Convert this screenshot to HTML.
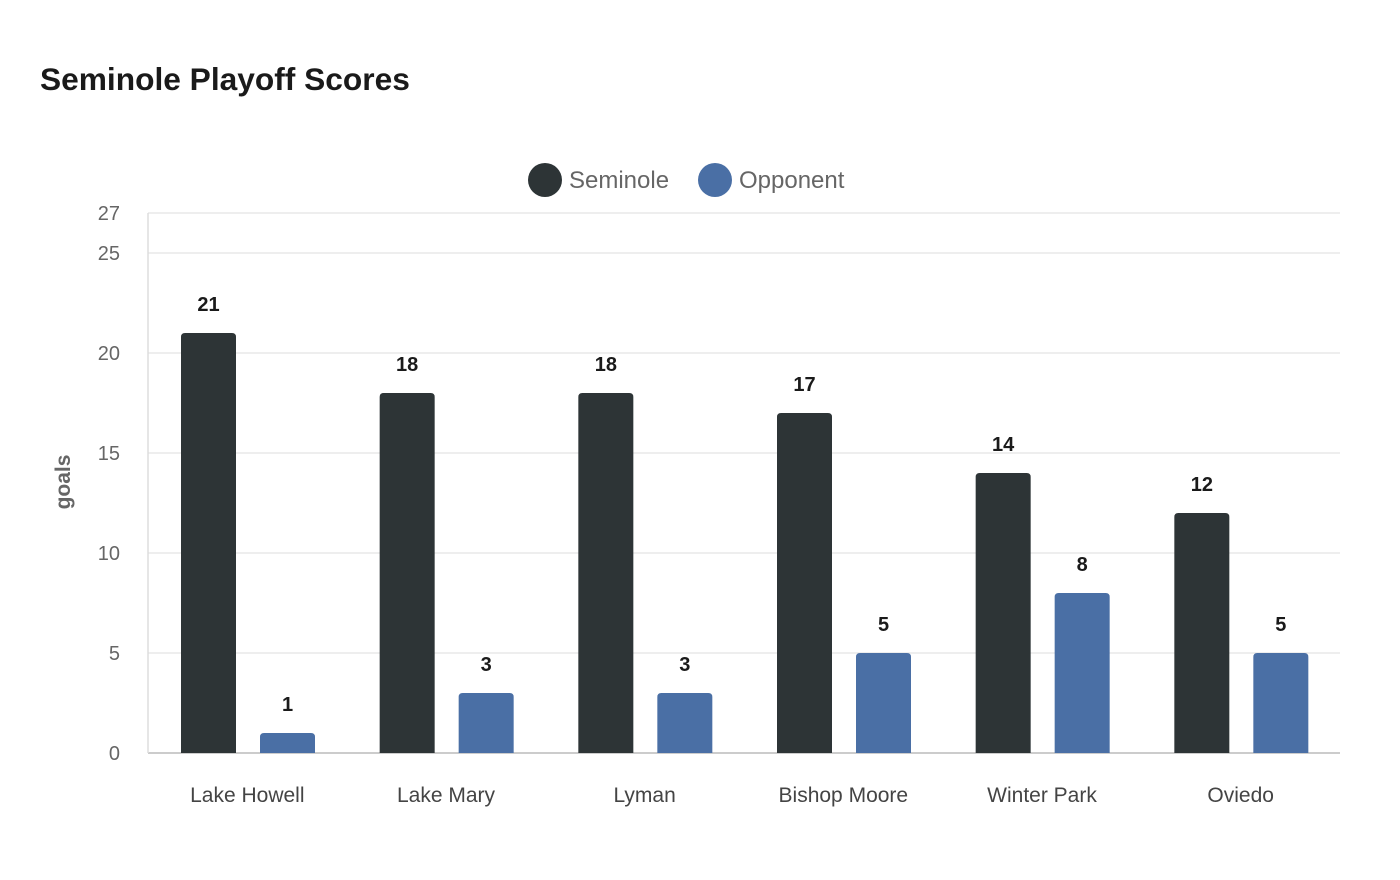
<!DOCTYPE html>
<html><head><meta charset="utf-8"><style>
body{margin:0;background:#fff;font-family:"Liberation Sans",sans-serif;}
svg{display:block}
</style></head><body>
<svg id="chart" width="1400" height="880">
<text x="40" y="90" font-size="31.7" font-weight="bold" fill="#1a1a1a">Seminole Playoff Scores</text>
<g>
<g><circle cx="545" cy="180" r="17" fill="#2d3436"/><text x="569" y="188" font-size="24" fill="#666">Seminole</text></g>
<g><circle cx="715" cy="180" r="17" fill="#4a6fa5"/><text x="739" y="188" font-size="24" fill="#666">Opponent</text></g>
</g>
<text transform="translate(70,482) rotate(-90)" text-anchor="middle" font-size="21" font-weight="bold" fill="#666">goals</text>
<g id="grid"></g><g id="bars"></g>
</svg>
<script>
const categories=["Lake Howell","Lake Mary","Lyman","Bishop Moore","Winter Park","Oviedo"];
const seminole=[21,18,18,17,14,12];
const opponent=[1,3,3,5,8,5];
const yTicks=[0,5,10,15,20,25,27];
const ns="http://www.w3.org/2000/svg";
const x0=148,x1=1340,yBase=753,yMax=27,yTop=213;
const y=v=>yBase-(v/yMax)*(yBase-yTop);
const band=(x1-x0)/categories.length;
const grid=document.getElementById('grid'),bars=document.getElementById('bars');
function mk(tag,attrs,parent){const e=document.createElementNS(ns,tag);for(const k in attrs)e.setAttribute(k,attrs[k]);parent.appendChild(e);return e;}
yTicks.forEach(t=>{
 const l=mk('line',{x1:x0,x2:x1,y1:y(t),y2:y(t),stroke:t===0?'#ccc':'#e8e8e8','stroke-width':t===0?2:1.5},grid);
 
 
 const tx=mk('text',{x:120,y:y(t)+7,'text-anchor':'end','font-size':20,fill:'#666'},grid);
 tx.textContent=t;
 
 
});
mk('line',{x1:x0,x2:x0,y1:yTop,y2:yBase,stroke:'#ddd','stroke-width':1.5},grid);
function bar(x,v,color,name){
 const w=55,r=4,top=y(v);
 const p=mk('path',{d:`M${x},${yBase}V${top+r}Q${x},${top} ${x+r},${top}H${x+w-r}Q${x+w},${top} ${x+w},${top+r}V${yBase}Z`,fill:color},bars);
 
 
 const t=mk('text',{x:x+w/2,y:top-22,'text-anchor':'middle','font-size':20,'font-weight':'bold',fill:'#1a1a1a'},bars);
 t.textContent=v;
 
 
}
categories.forEach((c,i)=>{
 const bx=x0+i*band;
 bar(bx+33,seminole[i],'#2d3436','bar-seminole-'+i);
 bar(bx+112,opponent[i],'#4a6fa5','bar-opponent-'+i);
 const t=mk('text',{x:bx+band/2,y:802,'text-anchor':'middle','font-size':21,fill:'#444'},bars);
 t.textContent=c;
 
 
});
</script>
</body></html>
